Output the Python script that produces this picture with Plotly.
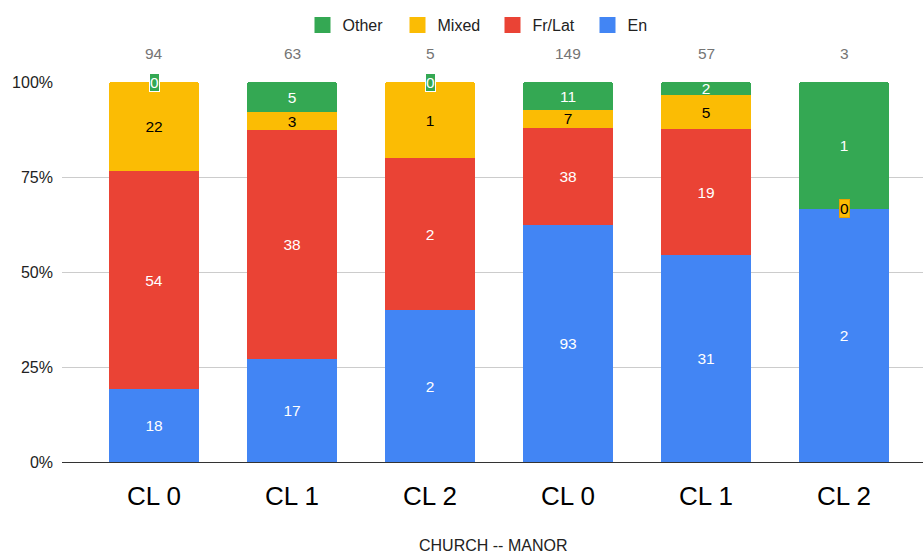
import plotly.graph_objects as go

# Cluster labels (church clusters first, then manor clusters)
categories = ["CL 0", "CL 1", "CL 2", "CL 0", "CL 1", "CL 2"]

# Counts per language group
en = [18, 17, 2, 93, 31, 2]
fr_lat = [54, 38, 2, 38, 19, 0]
mixed = [22, 3, 1, 7, 5, 0]
other = [0, 5, 0, 11, 2, 1]

y_ticks = [0, 25, 50, 75, 100]
y_tick_labels = ["0%", "25%", "50%", "75%", "100%"]

FONT = "Arial, 'Liberation Sans', sans-serif"

series = [
    ("En", en, "#4285F4", "#FFFFFF", "#3367D6"),
    ("Fr/Lat", fr_lat, "#EA4335", "#FFFFFF", "#C5221F"),
    ("Mixed", mixed, "#FBBC04", "#000000", "#E8A200"),
    ("Other", other, "#34A853", "#FFFFFF", "#FFFFFF"),
]

xpos = list(range(len(categories)))
totals = [sum(v) for v in zip(en, fr_lat, mixed, other)]

fig = go.Figure()
for name, vals, color, txtcolor, _ in series:
    fig.add_trace(go.Bar(
        x=xpos, y=vals, name=name, showlegend=False,
        marker=dict(color=color, line=dict(width=0)),
        text=[str(v) if v else "" for v in vals],
        textposition="inside", insidetextanchor="middle",
        textangle=0, constraintext="none",
        textfont=dict(family=FONT, size=15.5, color=txtcolor),
        width=0.652, hoverinfo="skip",
    ))

# Legend entries with larger square swatches
for name, vals, color, _, _ in series:
    fig.add_trace(go.Scatter(
        x=[None], y=[None], mode="markers", name=name,
        marker=dict(symbol="square", size=16, color=color),
        hoverinfo="skip",
    ))

# Labels for empty segments, drawn at their position in the stack
cum = [0] * len(categories)
for name, vals, color, txtcolor, border in series:
    for i, v in enumerate(vals):
        cum[i] += v
        if v == 0:
            fig.add_annotation(
                x=i, y=100 * cum[i] / totals[i], xref="x", yref="y",
                text="0", showarrow=False,
                font=dict(family=FONT, size=15.5, color=txtcolor),
                bgcolor=color, bordercolor=border, borderwidth=1, borderpad=0,
            )

# Totals above each bar
for i, t in enumerate(totals):
    fig.add_annotation(
        x=i, y=1.074, xref="x", yref="paper", yanchor="middle",
        text=str(t), showarrow=False,
        font=dict(family=FONT, size=15.5, color="#757575"),
    )

# Axis title below the cluster labels
fig.add_annotation(
    x=0.5, y=-0.2185, xref="paper", yref="paper", yanchor="middle",
    text="CHURCH -- MANOR", showarrow=False,
    font=dict(family=FONT, size=16, color="#222222"),
)

fig.update_layout(
    width=923, height=554,
    margin=dict(l=62, r=0, t=82, b=92),
    barmode="stack", barnorm="percent", barcornerradius=3,
    paper_bgcolor="white", plot_bgcolor="white",
    font=dict(family=FONT, color="#222222"),
    showlegend=True,
    legend=dict(
        orientation="h", x=0.5, xanchor="center", y=1.15, yanchor="middle",
        traceorder="reversed", font=dict(family=FONT, size=16, color="#222222"),
        entrywidth=50, entrywidthmode="pixels",
    ),
    xaxis=dict(
        tickmode="array", tickvals=xpos, ticktext=categories,
        range=[-0.667, 5.572], showgrid=False, zeroline=False,
        tickfont=dict(family=FONT, size=26, color="#000000"),
        ticks="", showline=False, ticklabelstandoff=16, automargin=False,
    ),
    yaxis=dict(
        range=[0, 100], tickmode="array", tickvals=y_ticks, ticktext=y_tick_labels,
        showgrid=True, gridcolor="#CCCCCC", gridwidth=1,
        zeroline=True, zerolinecolor="#333333", zerolinewidth=1,
        tickfont=dict(family=FONT, size=16, color="#222222"),
        ticks="", ticklabelstandoff=8, automargin=False,
    ),
)

fig.write_html("out.html")
